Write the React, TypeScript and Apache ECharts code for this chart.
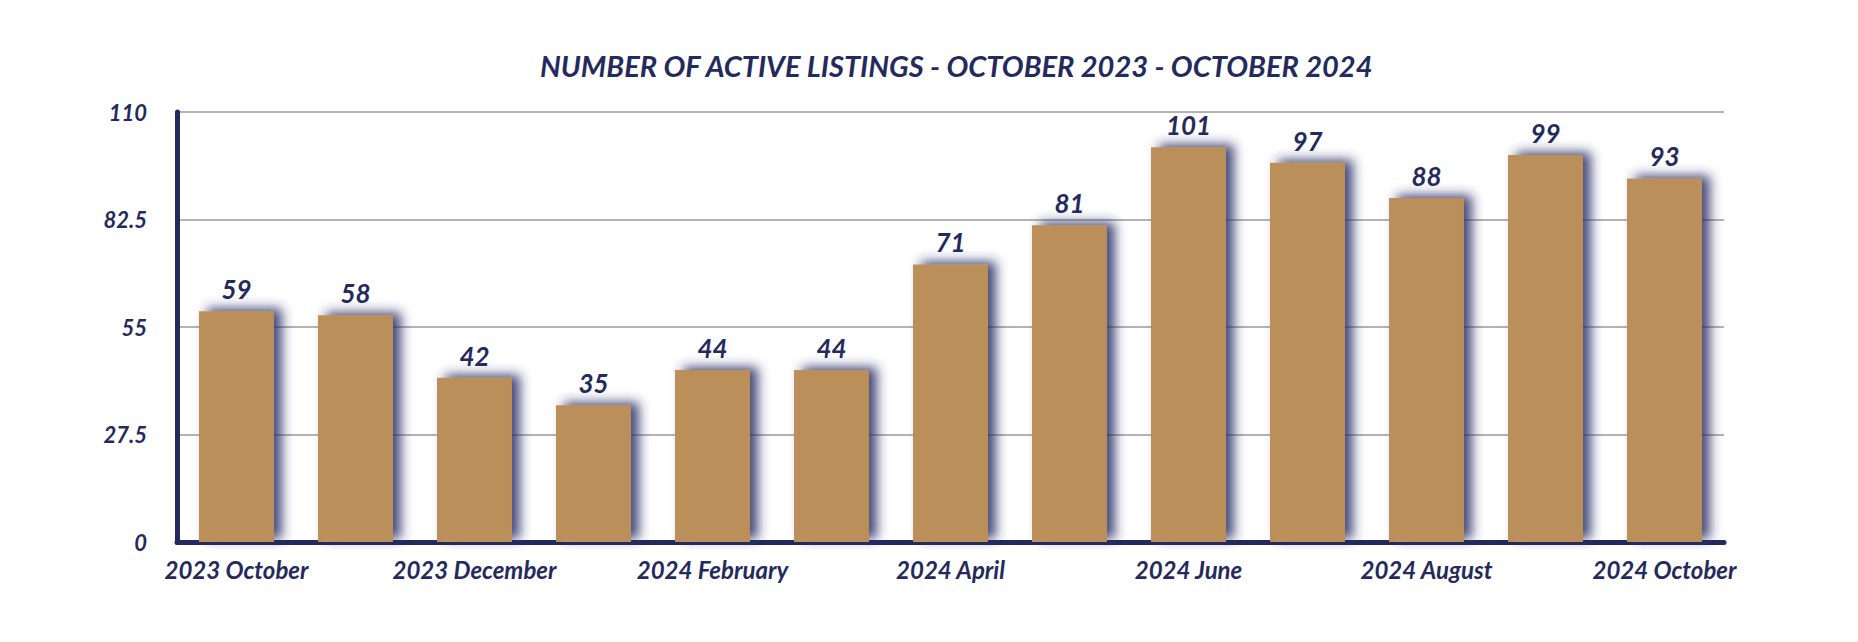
import React, { useEffect, useRef } from "react";
import * as echarts from "echarts";

const categories = [
  "2023 October", "2023 November", "2023 December", "2024 January", "2024 February",
  "2024 March", "2024 April", "2024 May", "2024 June", "2024 July",
  "2024 August", "2024 September", "2024 October",
];
const listings = [59, 58, 42, 35, 44, 44, 71, 81, 101, 97, 88, 99, 93];
const titleText = "NUMBER OF ACTIVE LISTINGS - OCTOBER 2023 - OCTOBER 2024";

const NAVY = "#252a5c";
const GOLD = "#bb8f5a";
const FONT = "Lato, 'Open Sans', sans-serif";

export default function App() {
  const ref = useRef<HTMLDivElement>(null);
  useEffect(() => {
    document.body.style.margin = "0";
    const chart = echarts.init(ref.current!, null, { renderer: "svg" });
    chart.setOption({
      animation: false,
      backgroundColor: "#ffffff",
      title: {
        text: titleText,
        left: 535,
        top: 46,
        textStyle: {
          color: NAVY,
          fontFamily: FONT,
          fontSize: 29,
          fontStyle: "italic",
          fontWeight: "bold",
        },
      },
      grid: { left: 177, right: 134, top: 112, bottom: 100 },
      xAxis: {
        type: "category",
        data: categories,
        axisLine: { lineStyle: { color: NAVY, width: 5 } },
        axisTick: { show: false },
        axisLabel: {
          interval: 1,
          color: NAVY,
          fontFamily: FONT,
          fontSize: 24,
          fontStyle: "italic",
          fontWeight: "bold",
          margin: 15,
        },
      },
      yAxis: {
        type: "value",
        min: 0,
        max: 110,
        interval: 27.5,
        axisLine: { show: true, lineStyle: { color: NAVY, width: 5 } },
        axisTick: { show: false },
        splitLine: { lineStyle: { color: "#b3b3b3", width: 2 } },
        axisLabel: {
          color: NAVY,
          fontFamily: FONT,
          fontSize: 22,
          fontStyle: "italic",
          fontWeight: "bold",
          margin: 30,
        },
      },
      series: [
        {
          type: "bar",
          data: listings,
          barWidth: "63%",
          itemStyle: {
            color: GOLD,
            shadowColor: "rgba(37,42,100,0.85)",
            shadowBlur: 12,
            shadowOffsetX: 8,
            shadowOffsetY: -3,
          },
          label: {
            show: true,
            position: "top",
            distance: 9,
            color: NAVY,
            fontFamily: FONT,
            fontSize: 26,
            fontStyle: "italic",
            fontWeight: "bold",
          },
        },
      ],
    });
    return () => chart.dispose();
  }, []);
  return (
    <div
      ref={ref}
      style={{ position: "fixed", left: 0, top: 0, width: 1858, height: 642 }}
    />
  );
}
